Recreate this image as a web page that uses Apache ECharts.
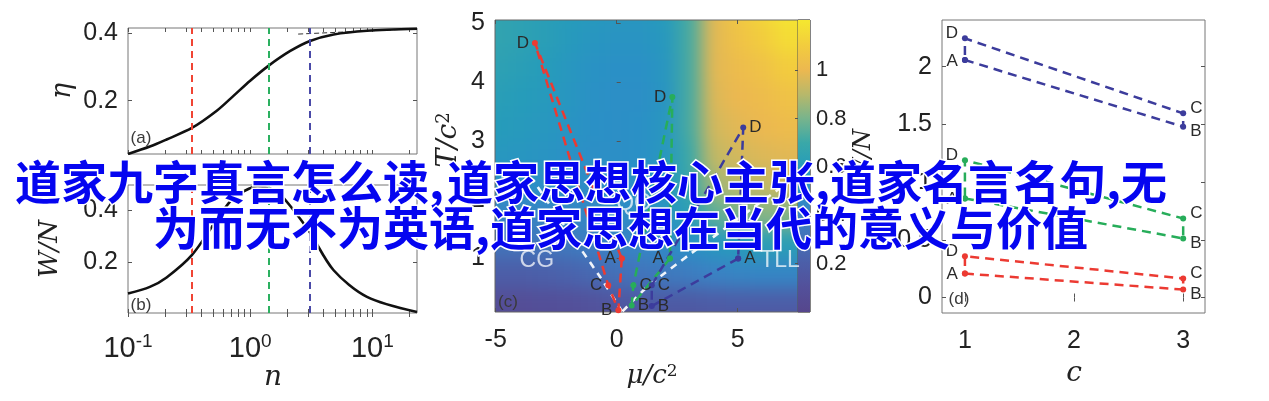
<!DOCTYPE html>
<html><head><meta charset="utf-8">
<script src="https://cdn.jsdelivr.net/npm/echarts@6/dist/echarts.min.js"></script>
<style>
html,body{margin:0;padding:0;background:#fff;overflow:hidden}
#wrap{position:relative;width:1269px;height:401px;background:#fff}
#hmclip{position:absolute;left:495px;top:20px;width:303px;height:292px;overflow:hidden}
#hm{position:absolute;left:-24px;top:-24px;width:351px;height:340px;filter:blur(9px)}
#main{position:absolute;left:0;top:0;width:1269px;height:401px}
</style></head><body>
<div id="wrap"><div id="hmclip"><div id="hm"></div></div><div id="main"></div></div>
<script>
// ---------- DATA ----------
// panel (a): eta vs n
const N_A = [0.1, 0.151, 0.207, 0.333, 0.533, 0.73, 1.0, 1.41, 2.13, 3.05, 4.82, 9.04, 23.2];
const ETA = [0.042, 0.064, 0.085, 0.119, 0.17, 0.214, 0.259, 0.303, 0.347, 0.376, 0.396, 0.407, 0.413];
const ASYM_N = [2.47, 23.2];
const ASYM_ETA = [0.397, 0.413];
// panel (b): W/N vs n
const N_B = [0.1, 0.151, 0.207, 0.333, 0.533, 0.73, 1.0, 1.15, 1.41, 1.7, 2.13, 3.05, 4.82, 9.04, 23.2];
const WN = [0.076, 0.102, 0.139, 0.226, 0.364, 0.45, 0.488, 0.495, 0.488, 0.47, 0.418, 0.318, 0.167, 0.063, 0.004];
// vertical markers (red, green, blue)
const N_MARKS = [0.333, 1.41, 3.05];
const LOG_LABELS = [0.1, 1, 10];
const LOG_TICKS = [0.1,0.2,0.3,0.4,0.5,0.6,0.7,0.8,0.9,1,2,3,4,5,6,7,8,9,10,20];
const A_Y_TICKS = [0.2, 0.4];
const B_Y_TICKS = [0.2, 0.4];
// panel (c): cycles A,B,C,D in (mu/c^2, T/c^2)
const POINT_NAMES = ['A', 'B', 'C', 'D'];
const C_RED_X = [0.21, 0.07, -0.35, -3.38];
const C_RED_Y = [1.0, 0.12, 0.545, 4.67];
const C_GREEN_X = [2.2, 0.62, 0.69, 2.3];
const C_GREEN_Y = [1.0, 0.2, 0.545, 3.75];
const C_BLUE_X = [5.02, 1.45, 1.45, 5.23];
const C_BLUE_Y = [1.0, 0.19, 0.545, 3.23];
const BOUND_L_X = [0.22, -0.69, -2.89, -3.45];
const BOUND_L_Y = [0.1, 0.69, 1.99, 2.33];
const BOUND_R_X = [0.24, 1.38, 5.79, 7.45];
const BOUND_R_Y = [0.1, 0.56, 1.91, 2.4];
const REGION_NAMES = ['CG', 'QC', 'TLL'];
const REGION_X = [-3.3, 0.69, 6.75];
const REGION_Y = [0.97, 1.94, 0.97];
const C_X_TICKS = [-5, 0, 5];
const C_Y_TICKS = [1, 2, 3, 4, 5];
// background field W/N (cell centres)
const HM_X = [-6, -5, -4, -3, -2, -1, 0, 1, 2, 3, 4, 5, 6, 7, 8];
const HM_Y = [5.25, 4.75, 4.25, 3.75, 3.25, 2.75, 2.25, 1.75, 1.25, 0.75, 0.25, -0.25];
const HM_VALUES = [
  [0.66,0.66,0.64,0.62,0.60,0.58,0.56,0.56,0.60,0.72,0.98,1.08,1.14,1.20,1.20],
  [0.66,0.66,0.64,0.62,0.58,0.55,0.53,0.53,0.57,0.72,0.98,1.05,1.10,1.16,1.16],
  [0.64,0.64,0.62,0.60,0.56,0.52,0.50,0.50,0.55,0.72,0.98,1.02,1.05,1.10,1.10],
  [0.62,0.62,0.60,0.58,0.55,0.51,0.49,0.49,0.54,0.72,0.97,1.00,1.02,1.05,1.05],
  [0.60,0.60,0.58,0.56,0.53,0.50,0.49,0.50,0.55,0.72,0.95,0.98,1.00,1.02,1.02],
  [0.56,0.56,0.55,0.53,0.51,0.49,0.49,0.50,0.56,0.70,0.92,0.95,0.97,0.98,0.98],
  [0.50,0.50,0.50,0.49,0.48,0.47,0.48,0.50,0.56,0.68,0.86,0.90,0.92,0.93,0.93],
  [0.42,0.42,0.42,0.42,0.43,0.44,0.46,0.48,0.53,0.62,0.75,0.80,0.82,0.82,0.82],
  [0.32,0.32,0.32,0.33,0.35,0.38,0.41,0.43,0.46,0.50,0.56,0.60,0.62,0.62,0.62],
  [0.20,0.20,0.20,0.21,0.23,0.26,0.30,0.33,0.35,0.37,0.40,0.42,0.43,0.43,0.43],
  [0.08,0.08,0.08,0.09,0.10,0.12,0.15,0.17,0.18,0.18,0.19,0.20,0.20,0.20,0.20],
  [0.04,0.04,0.04,0.05,0.06,0.07,0.08,0.09,0.09,0.09,0.10,0.10,0.10,0.10,0.10]
];
const CB_RANGE = [0, 1.207];
const CB_TICKS = [0.2, 0.4, 0.6, 0.8, 1];
// panel (d): values vs c
const D_C = [1, 3, 3, 1];
const D_RED = [0.208, 0.069, 0.165, 0.358];
const D_GREEN = [0.859, 0.512, 0.685, 1.19];
const D_BLUE = [2.058, 1.48, 1.596, 2.246];
const D_X_TICKS = [1, 2, 3];
const D_Y_TICKS = [0, 0.5, 1, 1.5, 2];
// overlay title
const TITLE_LINE_1 = ['道家九字真言怎么读,', '道家思想核心主张,', '道家名言名句,无'];
const TITLE_LINE_2 = ['为而无不为英语,', '道家思想在当代的意义与价值'];

// ---------- STYLE ----------
const PALETTE = ['#56468c','#53509a','#4c5ea8','#4470b8','#3a82c4','#2a90c6','#269cba','#3aa8a8','#78b48c','#b8b86a','#ecb850','#f2cc3e','#f5e630'];
const PAL_MAX = 1.2;
const COLORS = ['#ec3a32', '#27ad5a', '#3c3c9c'];
const MARK_COLORS = ['#f04434', '#2bb060', '#4a4aa8'];
const NUM_FONT = 'Liberation Sans';
const MATH_FONT = 'DejaVu Serif';
const C_XR = [-5.03, 7.99], C_YR = [0.09, 5.06];
const C_BOX = {left: 495, top: 20, width: 315, height: 292};
const HM_BOX = {width: 303, height: 292, margin: 24};

// ---------- heatmap background (blurred) ----------
const hmData = [];
HM_Y.forEach((y, i) => HM_X.forEach((x, j) => hmData.push([x, y, HM_VALUES[i][j]])));
const pxX = C_BOX.width / (C_XR[1] - C_XR[0]);
const pxY = C_BOX.height / (C_YR[1] - C_YR[0]);
const M = HM_BOX.margin;
const hm = echarts.init(document.getElementById('hm'), null, {renderer: 'canvas'});
hm.setOption({
  animation: false,
  grid: {left: 0, right: 0, top: 0, bottom: 0},
  xAxis: {type: 'value', show: false, min: C_XR[0] - M / pxX, max: C_XR[0] + (HM_BOX.width + M) / pxX},
  yAxis: {type: 'value', show: false, min: C_YR[0] - M / pxY, max: C_YR[1] + M / pxY},
  visualMap: {show: false, type: 'continuous', min: 0, max: PAL_MAX, dimension: 2, seriesIndex: 0, inRange: {color: PALETTE}},
  series: [{
    type: 'custom', clip: false, data: hmData,
    renderItem: (params, api) => {
      const x = api.value(0), y = api.value(1);
      const p0 = api.coord([x - 0.5, y + 0.25]);
      const p1 = api.coord([x + 0.5, y - 0.25]);
      return {type: 'rect', shape: {x: p0[0], y: p0[1], width: p1[0] - p0[0] + 1, height: p1[1] - p0[1] + 1},
        style: {fill: api.visual('color')}};
    }
  }]
});

// ---------- main chart ----------
const zip = (a, b) => a.map((v, i) => [v, b[i]]);
const tickStyle = {show: true, inside: true, length: 4, lineStyle: {color: '#555', width: 1}};
const labelStyle = {fontFamily: NUM_FONT, fontSize: 25, color: '#222'};
const gridBase = {show: true, borderColor: '#777', borderWidth: 1, backgroundColor: 'transparent'};

function logX(grid, pos, labels) {
  return {type: 'log', logBase: 10, gridIndex: grid, position: pos, min: 0.1, max: 23.2,
    axisLine: {show: false}, splitLine: {show: false},
    axisTick: Object.assign({customValues: LOG_TICKS}, tickStyle),
    axisLabel: labels ? {customValues: LOG_LABELS, margin: 19,
      formatter: v => '{b|10}{s|' + Math.round(Math.log10(v)) + '}',
      rich: {b: {fontFamily: NUM_FONT, fontSize: 29, color: '#222', lineHeight: 34},
             s: {fontFamily: NUM_FONT, fontSize: 19, color: '#222', verticalAlign: 'top', lineHeight: 22}}}
      : {show: false}};
}
function valAxis(kind, grid, pos, min, max, ticks, labels, extra) {
  return Object.assign({type: 'value', gridIndex: grid, position: pos, min, max,
    axisLine: {show: false}, splitLine: {show: false},
    axisTick: Object.assign({customValues: ticks}, tickStyle),
    axisLabel: labels ? Object.assign({customValues: ticks, margin: kind === 'x' ? 16 : 10}, labelStyle) : {show: false}}, extra || {});
}

const series = [];
// (a) markers
series.push({type: 'line', xAxisIndex: 0, yAxisIndex: 0, data: [], z: 1,
  markLine: {silent: true, symbol: ['none', 'none'], label: {show: false},
    data: N_MARKS.map((n, i) => ({xAxis: n, lineStyle: {color: MARK_COLORS[i], type: [7, 5], width: 2}}))}});
series.push({type: 'line', xAxisIndex: 0, yAxisIndex: 0, data: zip(N_A, ETA), smooth: 0.3, symbol: 'none', z: 3,
  lineStyle: {color: '#111', width: 2.6}});
series.push({type: 'line', xAxisIndex: 0, yAxisIndex: 0, data: zip(ASYM_N, ASYM_ETA), symbol: 'none', z: 2,
  lineStyle: {color: '#333', width: 1, type: [5, 3]}});
// (b)
series.push({type: 'line', xAxisIndex: 2, yAxisIndex: 2, data: [], z: 1,
  markLine: {silent: true, symbol: ['none', 'none'], label: {show: false},
    data: N_MARKS.map((n, i) => ({xAxis: n, lineStyle: {color: MARK_COLORS[i], type: [7, 5], width: 2}}))}});
series.push({type: 'line', xAxisIndex: 2, yAxisIndex: 2, data: zip(N_B, WN), smooth: 0.3, symbol: 'none', z: 3,
  lineStyle: {color: '#111', width: 2.6}});
// (c) boundaries
[[BOUND_L_X, BOUND_L_Y], [BOUND_R_X, BOUND_R_Y]].forEach(([bx, by]) => {
  series.push({type: 'line', xAxisIndex: 4, yAxisIndex: 4, data: zip(bx, by), symbol: 'none', z: 2, smooth: 0.2,
    lineStyle: {color: 'rgba(255,255,255,0.92)', width: 2.6, type: [7, 6]}});
});
series.push({type: 'scatter', xAxisIndex: 4, yAxisIndex: 4, symbolSize: 0, z: 2,
  data: REGION_NAMES.map((n, i) => ({value: [REGION_X[i], REGION_Y[i]], name: n})),
  label: {show: true, position: 'inside', formatter: p => p.name, fontFamily: NUM_FONT, fontSize: 23, color: 'rgba(255,255,255,0.92)'}});
// (c) cycles
const C_LABEL_POS = [
  ['left', 'left', 'left', 'left'],
  ['left', 'right', 'right', 'left'],
  ['right', 'right', 'right', 'right']
];
const C_SETS = [[C_RED_X, C_RED_Y], [C_GREEN_X, C_GREEN_Y], [C_BLUE_X, C_BLUE_Y]];
C_SETS.forEach(([xs, ys], k) => {
  const order = [0, 1, 2, 3, 0];
  series.push({type: 'line', xAxisIndex: 4, yAxisIndex: 4, z: 4, symbol: 'circle', symbolSize: 6,
    itemStyle: {color: COLORS[k]}, lineStyle: {color: COLORS[k], width: 2.5, type: [9, 6]},
    data: order.map((idx, m) => ({value: [xs[idx], ys[idx]],
      label: m < 4 ? {show: true, formatter: POINT_NAMES[idx], position: C_LABEL_POS[k][idx], distance: 3,
        fontFamily: NUM_FONT, fontSize: 17, color: '#2a2a2a'} : {show: false}}))});
});
// colorbar
const stops = PALETTE.map((c, i) => ({offset: Math.min(1, Math.max(0, 1 - (i * PAL_MAX / (PALETTE.length - 1)) / CB_RANGE[1])), color: c})).reverse();
series.push({type: 'custom', xAxisIndex: 6, yAxisIndex: 5, z: 1, clip: false, data: [[CB_RANGE[0], CB_RANGE[1]]],
  renderItem: (params, api) => {
    const t = api.coord([0, api.value(1)]), b = api.coord([1, api.value(0)]);
    return {type: 'rect', shape: {x: t[0], y: t[1], width: b[0] - t[0], height: b[1] - t[1]},
      style: {fill: new echarts.graphic.LinearGradient(0, 0, 0, 1, stops)}};
  }});
// (d)
const D_LABEL_POS = ['left', 'right', 'right', 'left'];
const D_LABEL_OFF = [[0, 1], [0, 5], [0, -5], [0, -5]];
[D_RED, D_GREEN, D_BLUE].forEach((vals, k) => {
  const order = [0, 1, 2, 3, 0];
  series.push({type: 'line', xAxisIndex: 7, yAxisIndex: 6, z: 4, symbol: 'circle', symbolSize: 6,
    itemStyle: {color: COLORS[k]}, lineStyle: {color: COLORS[k], width: 2.5, type: [9, 6]},
    data: order.map((idx, m) => ({value: [D_C[idx], vals[idx]],
      label: m < 4 ? {show: true, formatter: POINT_NAMES[idx], position: D_LABEL_POS[idx], distance: 4, offset: D_LABEL_OFF[idx],
        fontFamily: NUM_FONT, fontSize: 17, color: '#2a2a2a'} : {show: false}}))});
});

// graphic texts
const graphic = [];
const txt = (x, y, text, font, extra) => graphic.push(Object.assign({type: 'text', x, y, z: 50, silent: true,
  style: Object.assign({text, font, fill: '#222', align: 'center', verticalAlign: 'middle'}, extra || {})}));
txt(63, 91, 'η', 'italic 27px "' + MATH_FONT + '"');
graphic[graphic.length - 1].rotation = Math.PI / 2;
txt(50, 249, 'W/N', 'italic 26px "' + MATH_FONT + '"');
graphic[graphic.length - 1].rotation = Math.PI / 2;
txt(273, 378, 'n', 'italic 28px "' + MATH_FONT + '"');
graphic.push({type: 'text', x: 652, y: 376, z: 50, silent: true, style: {text: '{i|μ/c}{s|2}', align: 'center', verticalAlign: 'middle',
  rich: {i: {font: 'italic 26px "' + MATH_FONT + '"', fill: '#222'}, s: {font: '17px "' + MATH_FONT + '"', fill: '#222', verticalAlign: 'top'}}}});
graphic.push({type: 'text', x: 449, y: 140, rotation: Math.PI / 2, z: 50, silent: true, style: {text: '{i|T/c}{s|2}', align: 'center', verticalAlign: 'middle',
  rich: {i: {font: 'italic 28px "' + MATH_FONT + '"', fill: '#222'}, s: {font: '18px "' + MATH_FONT + '"', fill: '#222', verticalAlign: 'top'}}}});
txt(864, 156, 'W/N', 'italic 24px "' + MATH_FONT + '"');
graphic[graphic.length - 1].rotation = Math.PI / 2;
txt(1074, 374, 'c', 'italic 28px "' + MATH_FONT + '"');
[['(a)', 141, 138], ['(b)', 141, 305], ['(c)', 508, 302], ['(d)', 959, 299]].forEach(([t, x, y]) =>
  txt(x, y, t, '17px "' + NUM_FONT + '"', {fill: '#3a3a3a'}));
// overlay title
const T1_X = [15, 447, 830], T2_X = [153, 490];
const titleStyle = {font: 'bold 46px "Noto Sans CJK SC"', fill: '#0505f0', stroke: '#fff', lineWidth: 3, strokeFirst: true, align: 'left', verticalAlign: 'middle'};
TITLE_LINE_1.forEach((s, i) => graphic.push({type: 'text', x: T1_X[i], y: 182, z: 100, silent: true, style: Object.assign({text: s}, titleStyle)}));
TITLE_LINE_2.forEach((s, i) => graphic.push({type: 'text', x: T2_X[i], y: 228, z: 100, silent: true, style: Object.assign({text: s}, titleStyle)}));

const main = echarts.init(document.getElementById('main'), null, {renderer: 'canvas'});
main.setOption({
  animation: false,
  backgroundColor: 'transparent',
  grid: [
    Object.assign({left: 128, top: 28, width: 289, height: 126}, gridBase),
    Object.assign({left: 128, top: 185, width: 289, height: 128}, gridBase),
    Object.assign({}, C_BOX, gridBase, {borderColor: '#666'}),
    Object.assign({left: 798, top: 20, width: 12, height: 292}, gridBase, {borderColor: '#555'}),
    Object.assign({left: 942, top: 20, width: 263, height: 293}, gridBase)
  ],
  xAxis: [
    logX(0, 'bottom', false), logX(0, 'top', false),
    logX(1, 'bottom', true), logX(1, 'top', false),
    valAxis('x', 2, 'bottom', C_XR[0], C_XR[1], C_X_TICKS, true),
    valAxis('x', 2, 'top', C_XR[0], C_XR[1], C_X_TICKS, false),
    {type: 'value', gridIndex: 3, min: 0, max: 1, show: false},
    valAxis('x', 4, 'bottom', 0.79, 3.2, D_X_TICKS, true),
    valAxis('x', 4, 'top', 0.79, 3.2, D_X_TICKS, false)
  ],
  yAxis: [
    valAxis('y', 0, 'left', 0.042, 0.415, A_Y_TICKS, true),
    valAxis('y', 0, 'right', 0.042, 0.415, A_Y_TICKS, false),
    valAxis('y', 1, 'left', 0, 0.5, B_Y_TICKS, true),
    valAxis('y', 1, 'right', 0, 0.5, B_Y_TICKS, false),
    valAxis('y', 2, 'left', C_YR[0], C_YR[1], C_Y_TICKS, true),
    valAxis('y', 3, 'right', CB_RANGE[0], CB_RANGE[1], CB_TICKS, true,
      {axisLabel: {customValues: CB_TICKS, margin: 6, fontFamily: NUM_FONT, fontSize: 22, color: '#222'},
       axisTick: {show: true, inside: true, length: 3, customValues: CB_TICKS, lineStyle: {color: '#555'}}}),
    valAxis('y', 4, 'left', -0.134, 2.405, D_Y_TICKS, true),
    valAxis('y', 4, 'right', -0.134, 2.405, D_Y_TICKS, false)
  ],
  series,
  graphic
});
</script>
</body></html>
